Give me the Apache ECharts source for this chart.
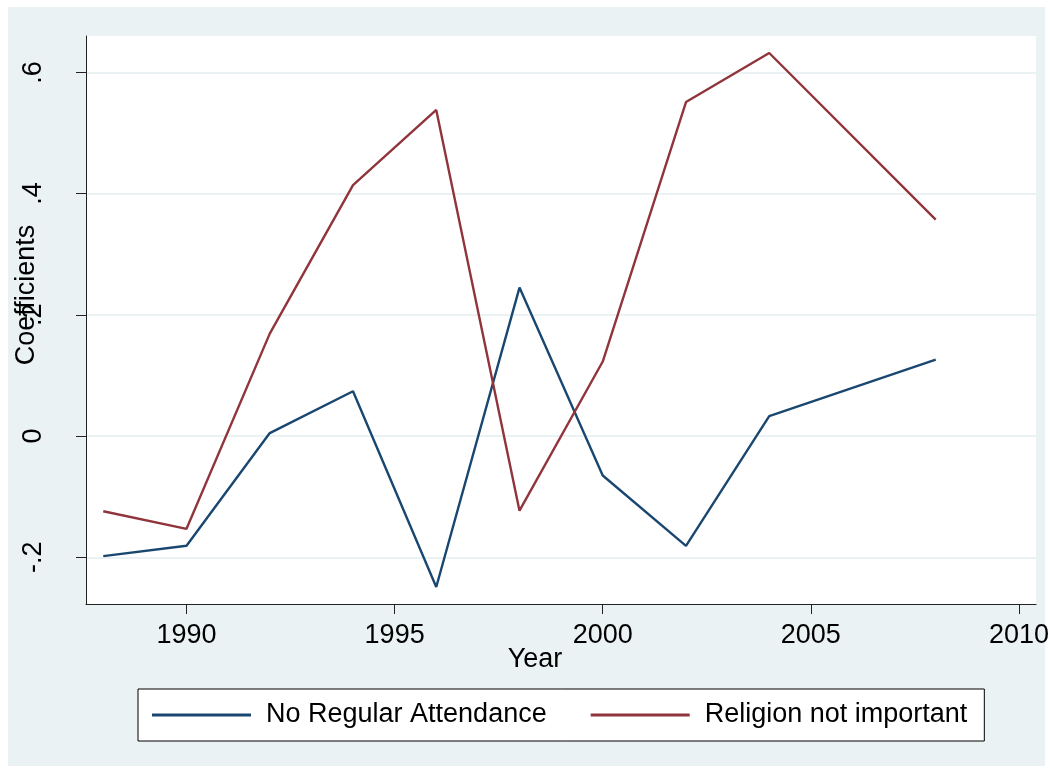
<!DOCTYPE html>
<html>
<head>
<meta charset="utf-8">
<style>
  html, body { margin: 0; padding: 0; background: #ffffff; }
  #chart { width: 1052px; height: 773px; }
</style>
<script src="https://cdn.jsdelivr.net/npm/echarts@6/dist/echarts.min.js"></script>
</head>
<body>
<div id="chart"></div>
<script>
// Survey years
const years = [1988, 1990, 1992, 1994, 1996, 1998, 2000, 2002, 2004, 2008];
// Estimated coefficients per year
const noRegularAttendance = [-0.198, -0.181, 0.005, 0.074, -0.249, 0.245, -0.065, -0.181, 0.033, 0.126];
const religionNotImportant = [-0.124, -0.153, 0.169, 0.414, 0.538, -0.123, 0.123, 0.551, 0.632, 0.357];
// Axis ticks
const xTicks = [1990, 1995, 2000, 2005, 2010];
const yTicks = [-0.2, 0, 0.2, 0.4, 0.6];

const FONT = '"Liberation Sans", Arial, sans-serif';
const NAVY = '#1a476f';
const MAROON = '#90353b';
const BG = '#eaf2f3';

// Stata-style number format: ".6", "-.2", "0"
function stataFmt(v) {
  const r = Math.round(v * 10) / 10;
  if (r === 0) return '0';
  return String(r).replace(/^(-?)0\./, '$1.');
}

const chart = echarts.init(document.getElementById('chart'), null, { renderer: 'canvas' });

chart.setOption({
  animation: false,
  backgroundColor: '#ffffff',
  graphic: [
    {
      type: 'rect', z: -100, silent: true,
      shape: { x: 8, y: 7, width: 1037, height: 759 },
      style: { fill: BG }
    },
    {
      type: 'text', silent: true,
      x: 27, y: 295, rotation: Math.PI / 2,
      style: {
        text: 'Coefficients', font: '27px ' + FONT, fill: '#000',
        align: 'center', verticalAlign: 'middle'
      }
    },
    {
      type: 'text', silent: true,
      x: 535, y: 660,
      style: {
        text: 'Year', font: '27px ' + FONT, fill: '#000',
        align: 'center', verticalAlign: 'middle'
      }
    }
  ],
  grid: {
    left: 86, right: 15, top: 36, bottom: 169,
    show: true, backgroundColor: '#ffffff', borderWidth: 0
  },
  legend: {
    left: 138, top: 689,
    padding: [11, 17, 11, 14],
    itemGap: 44,
    itemWidth: 99, itemHeight: 3,
    icon: 'rect',
    backgroundColor: '#ffffff',
    borderColor: '#000000', borderWidth: 1,
    textStyle: {
      fontFamily: FONT, fontSize: 27, color: '#000',
      lineHeight: 30, padding: [0, 0, 0, 10]
    },
    data: ['No Regular Attendance', 'Religion not important']
  },
  xAxis: {
    type: 'value',
    min: 1987.585, max: 2010.41,
    axisLine: { show: true, onZero: false, lineStyle: { color: '#222', width: 1 } },
    axisTick: { show: true, length: 10, customValues: xTicks, lineStyle: { color: '#222' } },
    axisLabel: {
      customValues: xTicks, margin: 18,
      fontFamily: FONT, fontSize: 27, color: '#000',
      formatter: v => String(v)
    },
    splitLine: { show: false }
  },
  yAxis: {
    type: 'value',
    min: -0.277, max: 0.66,
    axisLine: { show: true, onZero: false, lineStyle: { color: '#222', width: 1 } },
    axisTick: { show: true, length: 10, customValues: yTicks, lineStyle: { color: '#222' } },
    axisLabel: {
      customValues: yTicks, rotate: 90, margin: 39,
      fontFamily: FONT, fontSize: 27, color: '#000',
      formatter: stataFmt
    },
    splitLine: { show: true, lineStyle: { color: BG, width: 2 } }
  },
  series: [
    {
      name: 'No Regular Attendance', type: 'line',
      data: years.map((y, i) => [y, noRegularAttendance[i]]),
      showSymbol: false, symbol: 'none',
      lineStyle: { color: NAVY, width: 2.4 }, itemStyle: { color: NAVY }
    },
    {
      name: 'Religion not important', type: 'line',
      data: years.map((y, i) => [y, religionNotImportant[i]]),
      showSymbol: false, symbol: 'none',
      lineStyle: { color: MAROON, width: 2.4 }, itemStyle: { color: MAROON }
    }
  ]
});
</script>
</body>
</html>
